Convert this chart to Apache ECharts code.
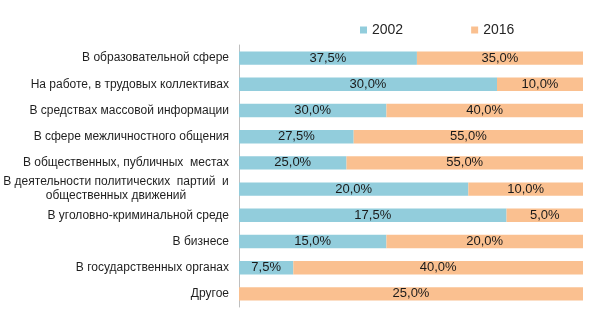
<!DOCTYPE html>
<html>
<head>
<meta charset="utf-8">
<script src="https://cdn.jsdelivr.net/npm/echarts@6/dist/echarts.min.js"></script>
<style>
  html, body { margin: 0; padding: 0; background: #fff; }
  #chart { width: 600px; height: 323px; }
</style>
</head>
<body>
<div id="chart"></div>
<script>
// Areas where the phenomenon shows up, survey shares by year
const categories = [
  'В образовательной сфере',
  'На работе, в трудовых коллективах',
  'В средствах массовой информации',
  'В сфере межличностного общения',
  'В общественных, публичных  местах',
  'В деятельности политических  партий  и\nобщественных движений',
  'В уголовно-криминальной среде',
  'В бизнесе',
  'В государственных органах',
  'Другое'
];
const years = ['2002', '2016'];
const values2002 = [37.5, 30.0, 30.0, 27.5, 25.0, 20.0, 17.5, 15.0, 7.5, null];
const values2016 = [35.0, 10.0, 40.0, 55.0, 55.0, 10.0, 5.0, 20.0, 40.0, 25.0];
const colors = ['#92CDDC', '#FAC090'];

// Each bar is stretched to full width: a segment's length is its share of the row total.
function shares(own) {
  return own.map((v, i) => {
    if (v == null) return { value: null, raw: null };
    const total = (values2002[i] || 0) + (values2016[i] || 0);
    return { value: v / total * 100, raw: v };
  });
}

const fmt = p => p.data.raw == null ? '' : p.data.raw.toFixed(1).replace('.', ',') + '%';

const chart = echarts.init(document.getElementById('chart'), null, { renderer: 'canvas' });
chart.setOption({
  animation: false,
  textStyle: { fontFamily: 'Liberation Sans, Arial, sans-serif' },
  legend: {
    data: years,
    left: 355,
    top: 18,
    icon: 'rect',
    itemWidth: 7,
    itemHeight: 7,
    itemGap: 68,
    textStyle: { fontSize: 14, color: '#262626' }
  },
  grid: { left: 238, right: 17, top: 45, bottom: 16, containLabel: false },
  xAxis: {
    type: 'value',
    min: 0,
    max: 100,
    show: false
  },
  yAxis: {
    type: 'category',
    inverse: true,
    data: categories,
    axisLine: { lineStyle: { color: '#BFBFBF', width: 1 } },
    axisTick: { show: false },
    axisLabel: {
      margin: 10,
      fontSize: 12,
      color: '#1f1f1f',
      lineHeight: 14,
      formatter: v => {
        if (v.indexOf('\n') >= 0) {
          return v.split('\n').map(s => '{ml|' + s + '}').join('\n');
        }
        return v;
      },
      rich: {
        ml: { width: 226, align: 'center', fontSize: 12, color: '#1f1f1f', lineHeight: 14 }
      }
    }
  },
  series: [
    {
      name: years[0],
      type: 'bar',
      stack: 'total',
      barCategoryGap: '49%',
      itemStyle: { color: colors[0] },
      label: { show: true, position: 'inside', fontSize: 13, color: '#1a1a1a', formatter: fmt },
      data: shares(values2002)
    },
    {
      name: years[1],
      type: 'bar',
      stack: 'total',
      barCategoryGap: '49%',
      itemStyle: { color: colors[1] },
      label: { show: true, position: 'inside', fontSize: 13, color: '#1a1a1a', formatter: fmt },
      data: shares(values2016)
    }
  ]
});
</script>
</body>
</html>
